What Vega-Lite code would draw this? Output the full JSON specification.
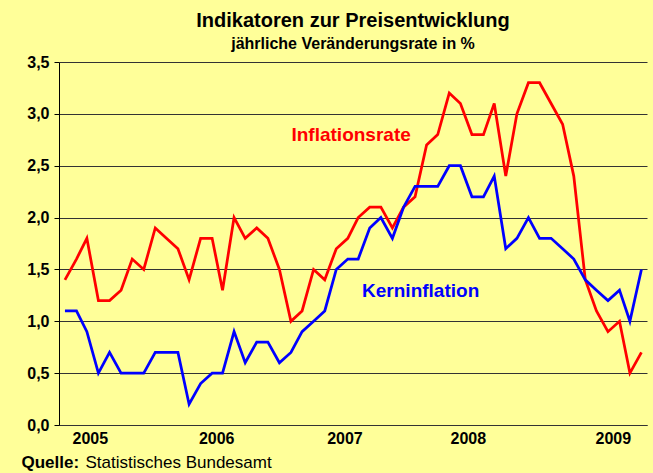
{
  "$schema": "https://vega.github.io/schema/vega-lite/v6.json",
  "width": 588,
  "height": 363,
  "autosize": {"type": "none"},
  "padding": {"left": 59, "top": 62, "right": 6, "bottom": 48},
  "background": "#FFFF99",
  "config": {"font": "Liberation Sans", "view": {"stroke": null}},
  "title": {
    "text": "Indikatoren zur Preisentwicklung",
    "subtitle": "jährliche Veränderungsrate in %",
    "font": "Liberation Sans",
    "subtitleFont": "Liberation Sans",
    "fontSize": 20,
    "fontWeight": "bold",
    "color": "black",
    "subtitleFontSize": 16,
    "subtitleFontWeight": "bold",
    "subtitleColor": "black",
    "subtitlePadding": 5,
    "anchor": "middle",
    "offset": 2
  },
  "datasets": {
    "cpi": [
      {"Datum": "2005-01-01", "Inflationsrate": 1.4, "Kerninflation": 1.1},
      {"Datum": "2005-02-01", "Inflationsrate": 1.6, "Kerninflation": 1.1},
      {"Datum": "2005-03-01", "Inflationsrate": 1.8, "Kerninflation": 0.9},
      {"Datum": "2005-04-01", "Inflationsrate": 1.2, "Kerninflation": 0.5},
      {"Datum": "2005-05-01", "Inflationsrate": 1.2, "Kerninflation": 0.7},
      {"Datum": "2005-06-01", "Inflationsrate": 1.3, "Kerninflation": 0.5},
      {"Datum": "2005-07-01", "Inflationsrate": 1.6, "Kerninflation": 0.5},
      {"Datum": "2005-08-01", "Inflationsrate": 1.5, "Kerninflation": 0.5},
      {"Datum": "2005-09-01", "Inflationsrate": 1.9, "Kerninflation": 0.7},
      {"Datum": "2005-10-01", "Inflationsrate": 1.8, "Kerninflation": 0.7},
      {"Datum": "2005-11-01", "Inflationsrate": 1.7, "Kerninflation": 0.7},
      {"Datum": "2005-12-01", "Inflationsrate": 1.4, "Kerninflation": 0.2},
      {"Datum": "2006-01-01", "Inflationsrate": 1.8, "Kerninflation": 0.4},
      {"Datum": "2006-02-01", "Inflationsrate": 1.8, "Kerninflation": 0.5},
      {"Datum": "2006-03-01", "Inflationsrate": 1.3, "Kerninflation": 0.5},
      {"Datum": "2006-04-01", "Inflationsrate": 2.0, "Kerninflation": 0.9},
      {"Datum": "2006-05-01", "Inflationsrate": 1.8, "Kerninflation": 0.6},
      {"Datum": "2006-06-01", "Inflationsrate": 1.9, "Kerninflation": 0.8},
      {"Datum": "2006-07-01", "Inflationsrate": 1.8, "Kerninflation": 0.8},
      {"Datum": "2006-08-01", "Inflationsrate": 1.5, "Kerninflation": 0.6},
      {"Datum": "2006-09-01", "Inflationsrate": 1.0, "Kerninflation": 0.7},
      {"Datum": "2006-10-01", "Inflationsrate": 1.1, "Kerninflation": 0.9},
      {"Datum": "2006-11-01", "Inflationsrate": 1.5, "Kerninflation": 1.0},
      {"Datum": "2006-12-01", "Inflationsrate": 1.4, "Kerninflation": 1.1},
      {"Datum": "2007-01-01", "Inflationsrate": 1.7, "Kerninflation": 1.5},
      {"Datum": "2007-02-01", "Inflationsrate": 1.8, "Kerninflation": 1.6},
      {"Datum": "2007-03-01", "Inflationsrate": 2.0, "Kerninflation": 1.6},
      {"Datum": "2007-04-01", "Inflationsrate": 2.1, "Kerninflation": 1.9},
      {"Datum": "2007-05-01", "Inflationsrate": 2.1, "Kerninflation": 2.0},
      {"Datum": "2007-06-01", "Inflationsrate": 1.9, "Kerninflation": 1.8},
      {"Datum": "2007-07-01", "Inflationsrate": 2.1, "Kerninflation": 2.1},
      {"Datum": "2007-08-01", "Inflationsrate": 2.2, "Kerninflation": 2.3},
      {"Datum": "2007-09-01", "Inflationsrate": 2.7, "Kerninflation": 2.3},
      {"Datum": "2007-10-01", "Inflationsrate": 2.8, "Kerninflation": 2.3},
      {"Datum": "2007-11-01", "Inflationsrate": 3.2, "Kerninflation": 2.5},
      {"Datum": "2007-12-01", "Inflationsrate": 3.1, "Kerninflation": 2.5},
      {"Datum": "2008-01-01", "Inflationsrate": 2.8, "Kerninflation": 2.2},
      {"Datum": "2008-02-01", "Inflationsrate": 2.8, "Kerninflation": 2.2},
      {"Datum": "2008-03-01", "Inflationsrate": 3.1, "Kerninflation": 2.4},
      {"Datum": "2008-04-01", "Inflationsrate": 2.4, "Kerninflation": 1.7},
      {"Datum": "2008-05-01", "Inflationsrate": 3.0, "Kerninflation": 1.8},
      {"Datum": "2008-06-01", "Inflationsrate": 3.3, "Kerninflation": 2.0},
      {"Datum": "2008-07-01", "Inflationsrate": 3.3, "Kerninflation": 1.8},
      {"Datum": "2008-08-01", "Inflationsrate": 3.1, "Kerninflation": 1.8},
      {"Datum": "2008-09-01", "Inflationsrate": 2.9, "Kerninflation": 1.7},
      {"Datum": "2008-10-01", "Inflationsrate": 2.4, "Kerninflation": 1.6},
      {"Datum": "2008-11-01", "Inflationsrate": 1.4, "Kerninflation": 1.4},
      {"Datum": "2008-12-01", "Inflationsrate": 1.1, "Kerninflation": 1.3},
      {"Datum": "2009-01-01", "Inflationsrate": 0.9, "Kerninflation": 1.2},
      {"Datum": "2009-02-01", "Inflationsrate": 1.0, "Kerninflation": 1.3},
      {"Datum": "2009-03-01", "Inflationsrate": 0.5, "Kerninflation": 1.0},
      {"Datum": "2009-04-01", "Inflationsrate": 0.7, "Kerninflation": 1.5}
    ],
    "labels": [
      {"Reihe": "Inflationsrate", "Datum": "2007-02-10", "Wert": 2.8},
      {"Reihe": "Kerninflation", "Datum": "2007-08-16", "Wert": 1.29}
    ]
  },
  "encoding": {
    "x": {
      "field": "Datum",
      "type": "temporal",
      "scale": {
        "type": "utc",
        "domain": [
          {"year": 2004, "month": 12, "date": 16, "utc": true},
          {"year": 2009, "month": 4, "date": 16, "utc": true}
        ]
      },
      "axis": {
        "values": [
          {"year": 2005, "month": 3, "date": 9, "utc": true},
          {"year": 2006, "month": 2, "date": 12, "utc": true},
          {"year": 2007, "month": 1, "date": 23, "utc": true},
          {"year": 2007, "month": 12, "date": 21, "utc": true},
          {"year": 2009, "month": 1, "date": 14, "utc": true}
        ],
        "labelExpr": "utcFormat(datum.value + 2592000000, '%Y')",
        "ticks": false,
        "grid": false,
        "domainColor": "#333333",
        "labelFontSize": 16,
        "labelFontWeight": "bold",
        "labelColor": "black",
        "labelPadding": 5,
        "labelFlush": false,
        "labelOverlap": false,
        "title": "Statistisches Bundesamt",
        "titleFontSize": 17,
        "titleFontWeight": "normal",
        "titleColor": "black",
        "titleAlign": "left",
        "titleAnchor": "start",
        "titleBaseline": "alphabetic",
        "titleX": 26,
        "titleY": 42
      }
    },
    "y": {
      "field": "Wert",
      "type": "quantitative",
      "scale": {"domain": [0, 3.5], "nice": false},
      "axis": {
        "values": [0, 0.5, 1, 1.5, 2, 2.5, 3, 3.5],
        "labelExpr": "replace(format(datum.value, '.1f'), '.', ',')",
        "grid": true,
        "gridColor": "#333333",
        "gridWidth": 1,
        "domainColor": "black",
        "tickColor": "black",
        "tickSize": 5,
        "labelFontSize": 16,
        "labelFontWeight": "bold",
        "labelColor": "black",
        "labelPadding": 5,
        "title": "Quelle:",
        "titleAngle": 0,
        "titleAlign": "left",
        "titleBaseline": "alphabetic",
        "titleX": -38,
        "titleY": 405,
        "titleFontSize": 17,
        "titleFontWeight": "bold",
        "titleColor": "black"
      }
    },
    "color": {
      "field": "Reihe",
      "type": "nominal",
      "scale": {"domain": ["Inflationsrate", "Kerninflation"], "range": ["#FF0000", "#0000FF"]},
      "legend": null
    }
  },
  "layer": [
    {
      "data": {"name": "cpi"},
      "transform": [{"fold": ["Inflationsrate", "Kerninflation"], "as": ["Reihe", "Wert"]}],
      "mark": {"type": "line", "strokeWidth": 2.75}
    },
    {
      "data": {"name": "labels"},
      "mark": {"type": "text", "fontSize": 19, "fontWeight": "bold", "align": "center", "baseline": "middle"},
      "encoding": {"text": {"field": "Reihe", "type": "nominal"}}
    }
  ]
}
